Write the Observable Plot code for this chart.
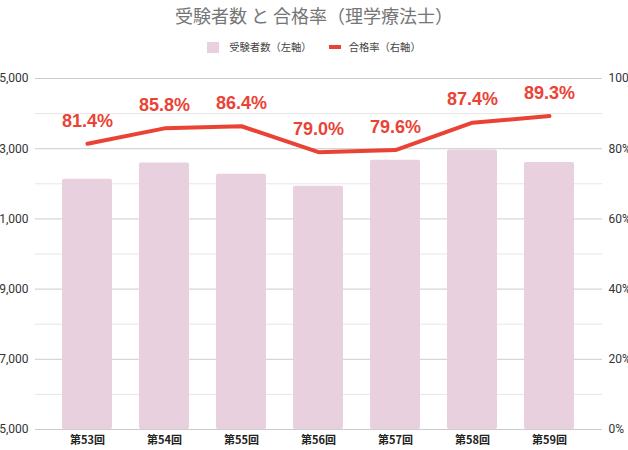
<!DOCTYPE html>
<html><head><meta charset="utf-8">
<script src="https://cdn.jsdelivr.net/npm/d3@7"></script>
<script src="https://cdn.jsdelivr.net/npm/@observablehq/plot@0.6"></script>
<style>
body{margin:0;background:#fff;font-family:Roboto,"Noto Sans CJK JP",sans-serif;}
#head{height:60px;position:relative;width:628px;}
#title{position:absolute;top:3px;left:0;width:628px;text-align:center;font-size:18px;line-height:24px;color:#757575;font-family:"Noto Sans CJK JP",sans-serif;}
#legend{position:absolute;top:40px;left:0;width:628px;display:flex;justify-content:center;align-items:center;font-size:10.3px;line-height:14px;color:#444;font-family:"Noto Sans CJK JP",sans-serif;}
.sq{width:12px;height:11px;background:#e8d0de;margin-right:10px;}
.ln{width:12px;height:4px;background:#ea4335;margin-left:17px;margin-right:8px;}
#chart svg{display:block;}
</style>
</head><body>
<div id="head">
  <div id="title">受験者数 と 合格率（理学療法士）</div>
  <div id="legend"><div class="sq"></div><span>受験者数（左軸）</span><div class="ln"></div><span>合格率（右軸）</span></div>
</div>
<div id="chart"></div>
<script>
const rounds = ["第53回","第54回","第55回","第56回","第57回","第58回","第59回"];
const examinees = [12130, 12590, 12270, 11930, 12670, 12960, 12610];
const passRate = [81.4, 85.8, 86.4, 79.0, 79.6, 87.4, 89.3];
const leftTicks = [5000, 7000, 9000, 11000, 13000, 15000];
const minorTicks = [6000, 8000, 10000, 12000, 14000];
const rightTicks = [0, 20, 40, 60, 80, 100];
const LEFT_MIN = 5000, LEFT_MAX = 15000;

const toLeft = p => LEFT_MIN + p / 100 * (LEFT_MAX - LEFT_MIN);
const data = rounds.map((r, i) => ({round: r, n: examinees[i], rate: passRate[i], rateV: toLeft(passRate[i])}));

const chart = Plot.plot({
  width: 628,
  height: 390,
  marginTop: 18,
  marginBottom: 21,
  marginLeft: 35,
  marginRight: 26,
  style: {fontFamily: "Roboto, 'Noto Sans CJK JP', sans-serif", fontSize: "12px", color: "#333", background: "#fff"},
  x: {domain: rounds, paddingInner: 0.35, paddingOuter: 0.175, insetLeft: 13.5, insetRight: 14.5, label: null},
  y: {domain: [LEFT_MIN, LEFT_MAX], label: null},
  marks: [
    Plot.ruleY(minorTicks, {stroke: "#e6e6e6", strokeWidth: 1}),
    Plot.ruleY(leftTicks, {stroke: "#cccccc", strokeWidth: 1}),
    Plot.barY(data, {x: "round", y1: LEFT_MIN, y2: "n", fill: "#e8d0de", rx: 2}),
    Plot.lineY(data, {x: "round", y: "rateV", stroke: "#ea4335", strokeWidth: 4, strokeLinejoin: "miter"}),
    Plot.text(data, {x: "round", y: "rateV", text: d => d.rate.toFixed(1) + "%", dy: -23, fill: "#ea4335",
      fontWeight: "bold", fontSize: 18, fontFamily: "'Liberation Sans', Arial, sans-serif"}),
    Plot.axisY({anchor: "left", ticks: leftTicks, tickFormat: d3.format(","), tickSize: 0, tickPadding: 7, label: null, fill: "#333"}),
    Plot.axisY({anchor: "right", ticks: rightTicks.map(toLeft), tickFormat: v => Math.round((v - LEFT_MIN) / (LEFT_MAX - LEFT_MIN) * 100) + "%", tickSize: 0, tickPadding: 6, label: null, fill: "#333"}),
    Plot.axisX({tickSize: 0, tickPadding: 7, label: null, fontWeight: "bold", fontSize: 11, fill: "#222", fontFamily: "'Noto Sans CJK JP', sans-serif"})
  ]
});
document.getElementById("chart").appendChild(chart);
</script>
</body></html>
